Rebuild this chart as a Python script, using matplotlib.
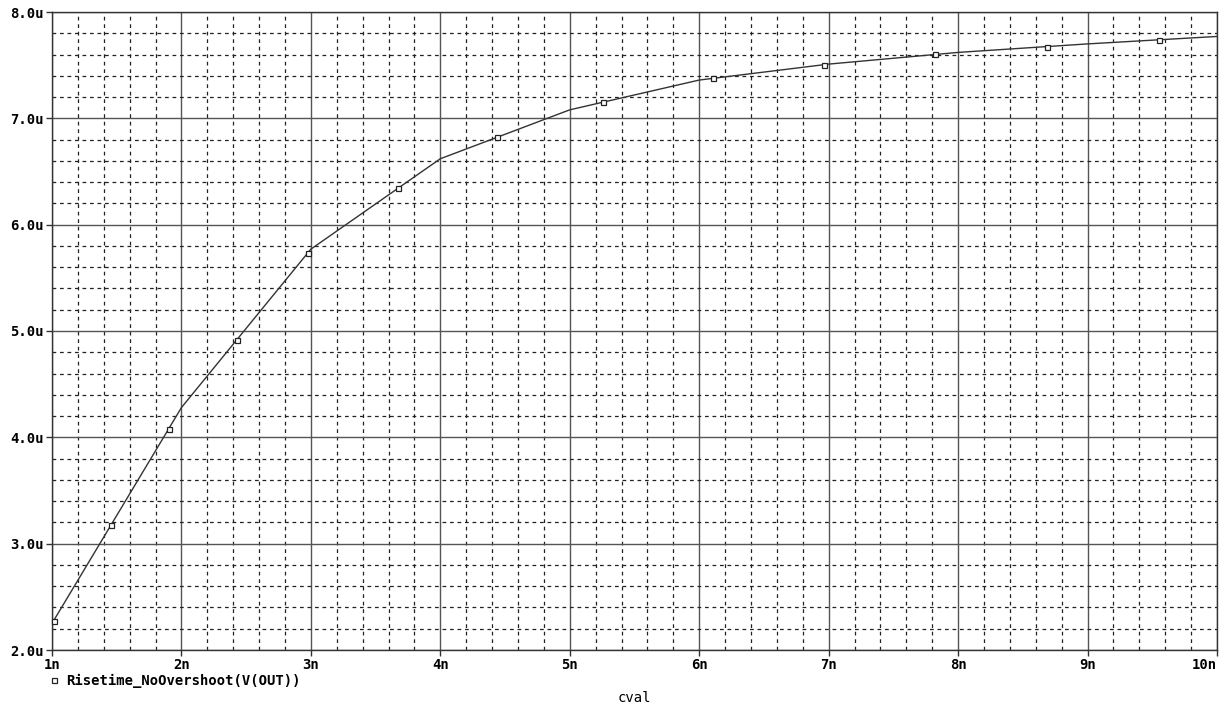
import numpy as np
import matplotlib
matplotlib.use('Agg')
import matplotlib.pyplot as plt
from matplotlib.lines import Line2D

# Valores (cval em n, tempo de subida em u)
cval = [1, 2, 3, 4, 5, 6, 7, 8, 9, 10]
risetime = [2.25, 4.28, 5.77, 6.62, 7.08, 7.36, 7.51, 7.62, 7.70, 7.77]
xticks = [1, 2, 3, 4, 5, 6, 7, 8, 9, 10]
xlabels = ['1n', '2n', '3n', '4n', '5n', '6n', '7n', '8n', '9n', '10n']
yticks = [2, 3, 4, 5, 6, 7, 8]
ylabels = ['2.0u', '3.0u', '4.0u', '5.0u', '6.0u', '7.0u', '8.0u']
serie = 'Risetime_NoOvershoot(V(OUT))'

fonte = {'family': 'DejaVu Sans Mono', 'weight': 'bold', 'size': 10}

fig = plt.figure(figsize=(12.3, 7.07), dpi=100)
ax = fig.add_axes([52 / 1230, 1 - 650 / 707, (1217 - 52) / 1230, (650 - 12) / 707])

ax.set_xlim(1, 10)
ax.set_ylim(2, 8)

# Grade principal e secundaria (estilo PSpice)
ax.set_xticks(xticks)
ax.set_xticks(np.arange(1, 10, 0.2), minor=True)
ax.set_yticks(yticks)
ax.set_yticks(np.arange(2, 8, 0.2), minor=True)
ax.grid(which='major', ls='-', color='#555555', lw=1)
ax.grid(which='minor', ls=(0, (3, 3)), color='#222222', lw=0.9)
ax.set_axisbelow(True)
ax.tick_params(which='minor', length=0)
ax.tick_params(which='major', length=4, width=1, pad=2, color='#333333')

ax.set_xticklabels(xlabels, fontdict=fonte)
ax.set_yticklabels(ylabels, fontdict=fonte)
ax.get_xticklabels()[-1].set_ha('right')

for s in ax.spines.values():
    s.set_color('#333333')
    s.set_linewidth(1)

ax.plot(cval, risetime, color='#333333', lw=1, zorder=3)

# Marcadores espacados ao longo da curva, como no PSpice
pts = ax.transData.transform(np.column_stack([cval, risetime]))
dist = np.concatenate([[0], np.cumsum(np.hypot(*np.diff(pts, axis=0).T))])
alvo = np.arange(3, dist[-1], 112)
mk = np.column_stack([np.interp(alvo, dist, pts[:, 0]), np.interp(alvo, dist, pts[:, 1])])
mk = ax.transData.inverted().transform(mk)
ax.plot(mk[:, 0], mk[:, 1], ls='none', marker='s', ms=3.6, mfc='white',
        mec='#222222', mew=0.9, zorder=4, clip_on=False)

handle = Line2D([], [], ls='none', marker='s', ms=3.6, mfc='white', mec='#222222', mew=0.9)
ax.legend([handle], [serie], loc='center left', bbox_to_anchor=(-0.003, -0.049),
          frameon=False, borderaxespad=0, borderpad=0, handlelength=0.8,
          handletextpad=0.5, prop=fonte)

ax.set_xlabel('cval', fontdict={'family': 'DejaVu Sans Mono', 'weight': 'normal', 'size': 10})
ax.xaxis.set_label_coords(0.5, -(698 - 650) / 638)
ax.xaxis.label.set_va('center')

fig.savefig('out.png', dpi=100)
